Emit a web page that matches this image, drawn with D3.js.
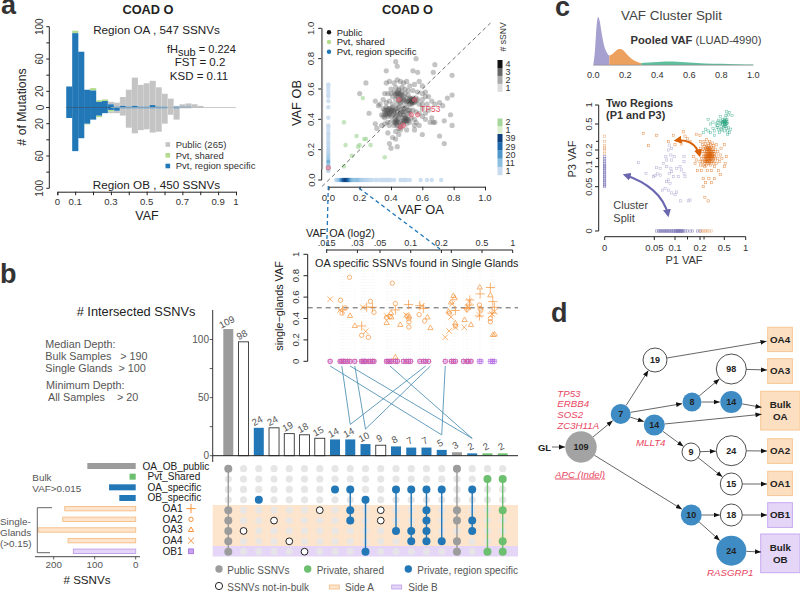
<!DOCTYPE html>
<html><head><meta charset="utf-8"><script src="https://cdn.jsdelivr.net/npm/d3@7"></script>
<style>html,body{margin:0;padding:0;background:#fff}svg{display:block}text{font-family:"Liberation Sans",Arial,sans-serif}</style></head><body>
<svg id="c" width="800" height="592"></svg>
<script>
// ---------- panel a
const histStart=[.05,.0833,.1167,.15,.1833,.2167,.25,.2833,.3167,.35,.3833,.4167,.45,.4833,.5167,.55,.5833,.6167,.65,.6833,.7167,.75,.7833];
const topBlue =[26,92,69,22,21,7,8,4,1,2,1,2,1,1,3,1,1,0,1,1,1,0,0];
const topGreen=[0,3,0,0,3,2,2,0,0,0,0,0,0,0,0,0,0,0,0,0,0,0,0];
const topGray =[0,0,0,0,0,0,0,3,5,11,21,35,27,29,30,24,16,11,1,3,4,4,2];
const botBlue =[13,54,38,20,15,10,7,3,4,1,1,1,1,1,1,1,1,0,1,0,0,0,0];
const botGreen=[0,0,0,1,0,2,0,2,0,0,0,0,0,0,0,0,0,0,0,0,0,0,0];
const botGray =[0,0,0,0,0,0,0,2,3,9,24,31,27,26,30,29,19,9,14,1,1,0,0];
const histXTicks=[0,.1,.3,.5,.7,.9,1];
const histYLabels=[100,60,20,0,20,60,100];
// ---------- scatter
const pubPts=[[.37,.72],[.43,.78],[.44,.75],[.56,.80],[.68,.76],[.67,.71],[.54,.72],[.57,.71],[.79,.69],[.24,.64],[.2,.57],[.79,.56],[.76,.54],[.71,.51],[.73,.49],[.78,.43],[.74,.39],[.79,.36],[.67,.38],[.65,.38],[.71,.29],[.74,.24],[.6,.3],[.55,.33],[.39,.24],[.4,.21],[.44,.22],[.43,.27],[.45,.3],[.38,.31],[.3,.37],[.34,.36],[.26,.44],[.3,.52],[.32,.49],
[.37,.64],[.39,.65],[.42,.64],[.44,.66],[.46,.65],[.48,.64],[.5,.65],[.52,.62],[.55,.63],[.58,.65],[.6,.62],[.4,.6],[.43,.61],[.45,.6],[.47,.61],[.49,.6],[.51,.59],[.54,.59],[.57,.58],[.6,.57],[.62,.55],[.66,.52],[.68,.5],[.36,.57],[.38,.57],[.4,.57],[.41,.55],[.42,.58],[.43,.56],[.44,.57],[.45,.55],[.46,.57],[.47,.56],[.48,.55],[.49,.57],[.5,.54],[.51,.56],[.52,.54],[.53,.53],[.54,.52],[.55,.53],[.56,.52],[.53,.51],[.54,.54],[.55,.51],[.56,.54],[.57,.53],[.58,.5],[.52,.5],[.6,.53],[.63,.5],
[.33,.5],[.35,.47],[.36,.45],[.37,.48],[.38,.46],[.39,.47],[.4,.45],[.41,.48],[.42,.46],[.43,.47],[.44,.45],[.45,.48],[.46,.46],[.47,.49],[.48,.47],[.49,.45],[.5,.48],[.51,.46],[.34,.43],[.35,.42],[.36,.41],[.37,.43],[.38,.42],[.39,.44],[.4,.42],[.41,.43],[.42,.44],[.43,.42],[.44,.43],[.45,.42],[.46,.43],[.47,.41],[.48,.43],[.49,.42],[.5,.41],[.52,.44],[.54,.46],[.56,.45],[.58,.44],[.6,.42],[.62,.44],[.64,.46],[.66,.41],[.68,.38],[.6,.47],[.62,.4],
[.41,.39],[.42,.38],[.43,.37],[.44,.39],[.42,.36],[.44,.36],[.47,.39],[.48,.38],[.49,.39],[.5,.37],[.51,.39],[.49,.41],[.52,.38],[.46,.36],[.45,.34],[.47,.35],[.46,.33],[.47,.37],[.53,.41],[.55,.4],[.56,.38],[.58,.36],[.36,.37],[.38,.38],[.39,.36],[.55,.36],[.43,.32],[.41,.28],[.5,.33],[.31,.34],[.37,.51],[.39,.52],[.41,.5],[.44,.5],[.47,.52],[.5,.51],[.6,.5],[.62,.58],[.35,.53],[.64,.55],
// dense core
[.53,.52],[.53,.52],[.54,.525],[.535,.515],[.525,.53],[.54,.51],[.53,.535],[.545,.53],[.52,.52],[.53,.5],[.55,.52],
[.43,.39],[.44,.385],[.435,.375],[.43,.4],[.44,.4],[.45,.38],[.5,.4],[.49,.385],[.5,.39],[.51,.4],[.495,.405],[.48,.395],
[.36,.46],[.37,.46],[.38,.47],[.38,.44],[.39,.45],[.4,.46],[.41,.46],[.4,.47],[.37,.44],[.36,.43],[.39,.43],[.42,.45],[.44,.47],[.46,.44],[.47,.45],[.48,.45],[.49,.47],[.52,.46],[.51,.44],
[.43,.57],[.44,.58],[.45,.57],[.46,.56],[.47,.58],[.45,.59],[.44,.55],[.46,.53],[.47,.54],[.48,.53],[.49,.52],[.5,.52],[.51,.52],[.46,.51],[.43,.53],[.45,.52]];
const sharedPts=[[.1,.38],[.22,.54],[.18,.29],[.11,.23],[.19,.22],[.2,.23],[.23,.27],[.24,.27],[.27,.23],[.15,.16],[.1,.09],[.36,.15]];
const stripY=[[.63,1],[.62,1],[.6,1],[.58,1],[.56,1],[.55,1],[.52,1],[.48,1],[.41,1],[.36,1],[.35,1],[.33,1],[.31,1],[.3,2],[.28,2],[.26,2],[.24,3],[.22,3],[.2,4],[.18,5],[.16,7],[.14,8],[.12,16],[.1,11],[.09,7],[.08,5],[.07,4],[.06,3]];
const stripX=[[.05,3],[.06,6],[.07,10],[.08,16],[.09,26],[.1,34],[.11,39],[.12,37],[.13,30],[.14,22],[.15,14],[.16,12],[.17,10],[.18,11],[.19,12],[.2,10],[.21,7],[.22,6],[.23,5],[.24,4],[.25,4],[.26,3],[.27,2],[.28,2],[.3,1],[.31,1],[.33,1],[.34,1],[.35,1],[.36,1],[.37,1],[.38,1],[.39,1],[.4,1],[.42,1],[.46,1],[.47,1],[.48,1],[.49,1],[.5,1],[.52,1],[.59,1],[.63,1],[.66,1],[.72,1]];
const redPts=[[.45,.53],[.55,.53],[.53,.43],[.57,.43],[.46,.35],[.48,.36],[0,.08]];
const scatterTicks=[0,.2,.4,.6,.8,1];
const countTicks=[1,11,20,29,39];
const grayLegend=[1,2,3,4];
const greenLegend=[1,2];
// ---------- panel c
const densX=[0,.01,.02,.03,.04,.05,.06,.07,.08,.09,.1,.12,.14,.16,.18,.2,.22,.25,.28,.3,.35,.4,.45,.5,.55,.6,.7,.8,.9,1];
const densY=[0,14,38,48,44,34,25,18,14,11,9.5,11,14,16,15.5,12.5,9,5,2.8,2,2.4,3,3.4,3.4,3,2.6,1.6,1.2,.8,.4];
const greenPts=[[.3,.62],[.24,.4],[.27,.44],[.3,.42],[.33,.4],[.36,.45],[.38,.42],[.38,.37],[.4,.5],[.41,.46],[.42,.55],[.43,.44],[.43,.6],[.44,.4],[.45,.52],[.46,.47],[.46,.58],[.47,.43],[.48,.5],[.48,.55],[.48,.62],[.49,.46],[.5,.52],[.5,.6],[.5,.42],[.51,.5],[.51,.56],[.52,.66],[.52,.47],[.53,.54],[.54,.6],[.54,.72],[.55,.5],[.55,.45],[.56,.56],[.56,.62],[.57,.52],[.58,.42],[.58,.38],[.59,.74],[.6,.46],[.62,.8],[.62,.4],[.65,.44],[.55,.82],[.45,.7],[.36,.55],[.33,.5],[.68,.72],[.47,.53],[.49,.57],[.52,.58],[.53,.49],[.54,.52],[.5,.47],[.46,.44],[.42,.48]];
const orangePts=[[.039,.39],[.056,.37],[.044,.25],[.084,.296],[.096,.37],[.133,.41],[.1,.26],[.11,.31],[.12,.3],[.125,.27],[.14,.36],[.15,.33],[.16,.3],[.185,.38],[.2,.37],[.175,.16],[.18,.12],[.185,.14],[.19,.09],[.2,.13],[.2,.18],[.21,.11],[.21,.22],[.21,.3],[.22,.15],[.22,.09],[.23,.19],[.23,.13],[.23,.26],[.24,.16],[.24,.11],[.24,.21],[.24,.07],[.25,.14],[.25,.18],[.25,.24],[.25,.3],[.26,.12],[.26,.16],[.26,.2],[.26,.1],[.27,.15],[.27,.18],[.27,.22],[.27,.27],[.27,.13],[.28,.11],[.28,.14],[.28,.17],[.28,.19],[.28,.24],[.28,.32],[.29,.13],[.29,.16],[.29,.18],[.29,.21],[.29,.09],[.3,.12],[.3,.15],[.3,.17],[.3,.19],[.3,.23],[.3,.28],[.31,.14],[.31,.16],[.31,.18],[.31,.2],[.31,.25],[.31,.07],[.32,.13],[.32,.15],[.32,.17],[.32,.19],[.32,.22],[.32,.3],[.33,.11],[.33,.14],[.33,.16],[.33,.18],[.33,.21],[.33,.26],[.34,.15],[.34,.17],[.34,.19],[.34,.23],[.34,.09],[.35,.13],[.35,.16],[.35,.18],[.35,.2],[.35,.28],[.36,.14],[.36,.17],[.36,.22],[.37,.12],[.37,.15],[.37,.19],[.37,.25],[.38,.16],[.38,.18],[.38,.1],[.39,.14],[.39,.21],[.4,.17],[.4,.12],[.4,.26],[.42,.15],[.42,.19],[.43,.09],[.44,.13],[.45,.17],[.46,.22],[.47,.15],[.5,.1],[.5,.26],[.52,.12],[.55,.16],[.24,.05],[.27,.06],[.34,.06],[.38,.07],[.26,.038],[.3,.034],[.45,.08],
[.27,.16],[.28,.155],[.29,.15],[.29,.17],[.3,.16],[.3,.18],[.31,.15],[.31,.17],[.32,.16],[.32,.18],[.33,.15],[.33,.17],[.34,.16],[.34,.18],[.35,.15],[.35,.17],[.3,.14],[.3,.2],[.32,.2],[.28,.2],[.29,.23],[.31,.22],[.33,.19],[.36,.16],[.36,.19],[.34,.13],[.32,.12],[.3,.13],[.28,.13],[.26,.14]];
const purplePts=[[.0342,.124],[.0416,.083],[.0556,.0975],[.0516,.0775],[.049,.075],[.0573,.082],[.065,.079],[.072,.12],[.078,.16],[.084,.2],[.09,.17],[.092,.14],[.098,.16],[.08,.1],[.09,.096],[.086,.083],[.092,.0875],[.096,.075],[.107,.096],[.12,.1],[.127,.092],[.136,.083],[.14,.075],[.084,.067],[.088,.058],[.08,.0625],[.076,.048],[.07,.046],[.084,.046],[.092,.043],[.1,.041],[.107,.044],[.123,.034],[.153,.034],[.16,.035],[.136,.16],[.136,.13],[.08,.14],[.086,.257],[.092,.22],[.113,.075],[.064,.096]];
const stripCY=[.05,.053,.056,.06,.063,.066,.07,.073,.076,.08,.083,.086,.09,.093,.096,.1,.105,.11,.12,.13,.14,.15,.16];
const stripCYO=[.18,.2,.22,.25,.3,.36];
const stripCX=[.055,.06,.062,.065,.067,.07,.072,.075,.077,.08,.082,.085,.087,.09,.092,.095,.097,.1,.103,.105,.108,.11,.113,.115,.118,.12,.123,.125,.128,.13,.135,.14,.15,.16,.17,.19,.2];
const stripCXO=[.21,.23,.25,.27,.29,.31,.34];
const cXTicks=[0,.05,.1,.2,.5,1];
const cYTicks=[0,.05,.1,.2,.5,1];
const cXMinor=[.15,.25];
const cYMinor=[.15,.3];
// ---------- panel b
const barVals=[109,98,24,24,19,18,15,14,14,10,9,8,7,7,5,3,2,2,2];
const barKind=['pub','open','spec','open','open','open','open','spec','spec','spec','open','spec','spec','spec','spec','pub','spec','shared','shared'];
const barSets=[[0,4,5,6,7,8],[6],[3],[5],[7],[8],[4],[2],[2,4,5],[3,8],[4,5],[2,6],[2,6,7],[2,4,5,6,7],[2,7],[0,4,5,7,8],[2,5,6],[1,8],[1,4,7,8]];
const setNames=['OA_OB_public','Pvt_Shared','OA_specific','OB_specific','OA1','OA2','OA3','OA4','OB1'];
const setSizes=[118,15,65,40,173,178,238,165,152];
const setKind=['pub','shared','spec','spec','sideA','sideA','sideA','sideA','sideB'];
const barTicks=[0,50,100];
const sizeTicks=[0,100,200];
// single glands
const glPlus=[[.0215,.48],[.033,.33],[.037,.505],[.0422,.505],[.0707,.48],[.0952,.53],[.123,.52],[.133,.495],[.274,.475],[.355,.495],[.38,.573],[.376,.526],[.479,.63],[.472,.424],[.604,.69],[.638,.558],[.662,.505],[.628,.45]];
const glCircle=[[.0205,.57],[.0251,.785],[.0227,.5],[.0212,.45],[.033,.243],[.0384,.224],[.0403,.56],[.0436,.458],[.058,.41],[.066,.73],[.0707,.54],[.0626,.417],[.092,.424],[.0952,.4],[.096,.37],[.096,.32],[.121,.436],[.137,.377],[.24,.45],[.274,.33],[.355,.486],[.472,.526],[.488,.48],[.479,.495],[.604,.4],[.604,.37]];
const glTri=[[.0254,.424],[.0283,.33],[.058,.358],[.064,.45],[.0645,.41],[.079,.34],[.097,.417],[.146,.41],[.156,.31],[.235,.464],[.249,.55],[.262,.61],[.27,.59],[.274,.355],[.337,.386],[.39,.34],[.475,.69],[.604,.617],[.64,.246],[.665,.25],[.0707,.037]];
const glCross=[[.0162,.58],[.0203,.48],[.0362,.28],[.034,.505],[.058,.424],[.0904,.433],[.128,.517],[.218,.224],[.238,.283],[.255,.536],[.249,.414],[.274,.318],[.335,.318],[.376,.564],[.367,.505],[.472,.433],[.628,.442],[.662,.464]];
const glZero=[.0162,.0203,.0211,.0219,.0227,.024,.0254,.0283,.033,.034,.0352,.0362,.0384,.0403,.0422,.0436,.058,.06,.0626,.065,.0707,.074,.085,.0904,.0952,.1,.123,.133,.14,.15,.218,.25,.262,.274,.33,.355,.367,.39,.472,.488,.604,.628,.64,.662];
const glXTicks=[.015,.03,.05,.1,.2,.25,.5,1];
const glXLabels=['.015','.03','.05','0.1','0.2','','0.5','1'];
const glYTicks=[0,.2,.4,.6,.8,1];
const glLinks=[[.0162,14],[.0211,8],[.0283,9],[.0254,16],[.0626,16],[.14,8],[.156,9],[.218,14]];
// ---------- panel d
const treeNodes=[['r','109',581,447,15.7,'pub'],['a','7',620.7,414,10,'spec'],['b','19',655,360,12,'open'],['c','8',692,402,9.5,'spec'],['d','98',731.3,369,15,'open'],['e','14',731.3,402,11,'spec'],['f','14',654.3,425,10.5,'spec'],['g','9',691,452,9,'open'],['h','24',731.3,450.7,15,'open'],['i','15',731.3,484,11,'open'],['j','10',691.3,515,10.5,'spec'],['k','18',731.3,515,11,'open'],['l','24',731.3,550.7,15,'spec']];
const treeBoxes=[['OA4',767.7,327.3,24.7,24.3,'A'],['OA3',767.7,358.7,24.7,24.7,'A'],['Bulk\nOA',760.7,391.3,39.3,38.7,'A'],['OA2',767.7,438.7,24.7,24.7,'A'],['OA1',767.7,471.3,24.7,24.3,'A'],['OB1',767.7,502.7,24.7,24.7,'B'],['Bulk\nOB',760.7,534,39.3,38.7,'B']];
const treeEdges=[['r','a'],['a','b'],['a','c'],['a','f'],['c','d'],['c','e'],['f','g'],['g','h'],['g','i'],['r','j'],['j','k'],['j','l']];
const treeExits=[['b',766.5,341.3],['d',767,370],['e',761.5,407.3],['f',761.5,414.3],['h',767,451],['i',767,484],['k',767,515],['l',761,552]];
const geneNotes=[['TP53',557.3,396.7],['ERBB4',557.3,407],['SOS2',557.3,418],['ZC3H11A',557.3,429],['MLLT4',636,445.5],['APC (Indel)',555,477.5],['RASGRP1',707,576]];

const BLUE='#2277b7',GREEN='#6bbf6e',GRAY='#9c9c9c',ORANGE='#f5933b',ACOL='#555';
const svg=d3.select('#c');
function T(x,y,s,o={}){const t=svg.append('text').attr('x',x).attr('y',y).text(s)
 .attr('font-size',o.size||10).attr('fill',o.fill||'#222').attr('text-anchor',o.anchor||'start');
 if(o.weight)t.attr('font-weight',o.weight); if(o.style)t.attr('font-style',o.style);
 if(o.rot!==undefined)t.attr('transform',`rotate(${o.rot} ${x} ${y})`);
 if(o.deco)t.attr('text-decoration',o.deco); return t;}
function L(g,x1,y1,x2,y2,c='#222',w=1,dash){const l=g.append('line').attr('x1',x1).attr('y1',y1).attr('x2',x2).attr('y2',y2).attr('stroke',c).attr('stroke-width',w);if(dash)l.attr('stroke-dasharray',dash);return l;}
// panel letters
[['a',1,14],['b',0,283],['c',555,16],['d',551,322]].forEach(d=>T(d[1],d[2],d[0],{size:27,weight:'bold',fill:'#333'}));

// ====== PANEL A
(function(){
 const g=svg.append('g');
 const x=d3.scaleLinear([0,1],[57.3,236]);
 const yT=d3.scaleLinear([0,100],[107.5,26.7]);
 const yB=d3.scaleLinear([0,100],[107.5,188.3]);
 const w=1/30;
 const draw=(y,a,b,c)=>histStart.forEach((s,i)=>{
  const rect=(v0,v1,col)=>{if(v1>v0)g.append('rect').attr('x',x(s)).attr('width',x(s+w)-x(s)+.2).attr('y',Math.min(y(v0),y(v1))).attr('height',Math.abs(y(v1)-y(v0))).attr('fill',col);};
  rect(a[i]+b[i],a[i]+b[i]+c[i],'#c4c4c4');
  rect(a[i],a[i]+b[i],'#b4dc8e');
  rect(0,a[i],BLUE);
  if(c[i]>0) g.append('line').attr('x1',x(s)).attr('x2',x(s)).attr('y1',y(0)).attr('y2',y(a[i]+b[i]+c[i])).attr('stroke','#fff').attr('stroke-width',.4).attr('opacity',.6);
 });
 draw(yT,topBlue,topGreen,topGray); draw(yB,botBlue,botGreen,botGray);
 L(g,x(0.05),107.5,x(.3),107.5,'#1b4a70',.7); L(g,x(.3),107.5,236,107.5,'#aaa',.6);
 const ya=g.append('g').attr('transform','translate(49.3,0)');
 L(ya,0,yT(100),0,yB(100));
 d3.range(0,101,20).forEach(v=>{L(ya,-3,yT(v),0,yT(v));L(ya,-3,yB(v),0,yB(v));});
 histYLabels.forEach((v,i)=>{const yy=i<3?yT(v):yB(v);T(43.5,yy,v,{size:10,rot:-90,anchor:'middle',fill:'#333'});});
 const xa=g.append('g').attr('transform','translate(0,191.7)');
 const ax=d3.axisBottom(x).tickValues(d3.range(0,1.01,.1)).tickSize(3.5).tickFormat('');
 xa.call(ax);xa.selectAll('path,line').attr('stroke','#222');
 histXTicks.forEach(v=>T(x(v),205,v,{size:9.6,anchor:'middle',fill:'#333'}));
 T(147,220,'VAF',{size:12.5,anchor:'middle'});
 T(26,107,'# of Mutations',{size:12.3,rot:-90,anchor:'middle'});
 T(148,14,'COAD O',{size:12.8,weight:'bold',anchor:'middle'});
 T(156.5,33.5,'Region OA , 547 SSNVs',{size:11.7,anchor:'middle'});
 T(156.5,189,'Region OB , 450 SSNVs',{size:11.7,anchor:'middle'});
 const fh=T(167,53,'fH',{size:11});fh.append('tspan').attr('dy',3).text('sub');fh.append('tspan').attr('dy',-3).text(' = 0.224');
 T(200,66,'FST = 0.2',{size:11.5,anchor:'middle'});T(199,79.5,'KSD = 0.11',{size:11.5,anchor:'middle'});
 [['Public (265)','#c4c4c4',144.5],['Pvt, shared','#b4dc8e',155.3],['Pvt, region specific',BLUE,166]].forEach(d=>{
  g.append('rect').attr('x',165.5).attr('y',d[2]-2.3).attr('width',4.6).attr('height',4.6).attr('fill',d[1]);
  T(175.7,d[2]+3.2,d[0],{size:9.5,fill:'#333'});});
})();

// ====== SCATTER
(function(){
 const g=svg.append('g');
 const x=d3.scaleLinear([0,1],[328.3,485]);
 const y=d3.scaleLinear([0,1],[180,28.3]);
 const blues=d3.scaleLinear().domain(countTicks).range(['#c9dcef','#8dbfe0','#4f97cb','#1f69ad','#0d3f7c']);
 const grays=d3.scaleLinear().domain(grayLegend).range(['#dddddd','#aaaaaa','#666666','#111111']);
 const greens=d3.scaleLinear().domain(greenLegend).range(['#dbeecf','#a5d69b']);
 g.selectAll('.p').data(pubPts).enter().append('circle').attr('cx',d=>x(d[0])).attr('cy',d=>y(d[1])).attr('r',2.6).attr('fill','#4d4d4d').attr('opacity',.33);
 g.selectAll('.s').data(sharedPts).enter().append('circle').attr('cx',d=>x(d[0])).attr('cy',d=>y(d[1])).attr('r',2.3).attr('fill','#9dd393').attr('opacity',.6);
 g.selectAll('.sy').data(stripY).enter().append('circle').attr('cx',x(0)).attr('cy',d=>y(d[0])).attr('r',2.2).attr('fill',d=>blues(d[1])).attr('opacity',.9);
 g.selectAll('.sx').data(stripX).enter().append('circle').attr('cy',y(0)).attr('cx',d=>x(d[0])).attr('r',2.2).attr('fill',d=>blues(d[1])).attr('opacity',.9);
 g.selectAll('.r').data(redPts).enter().append('circle').attr('cx',d=>x(d[0])).attr('cy',d=>y(d[1])).attr('r',2.2).attr('fill','#e8768a').attr('fill-opacity',.5).attr('stroke','#e04a5f').attr('stroke-width',.6);
 T(x(.6)-2,y(.47)+3,'TP53',{size:8.4,fill:'#e04a5f'});
 L(g,x(-.04),y(-.04)+.4,x(1.035),y(1.035),'#333',.7,'4 3');
 const ya=g.append('g').attr('transform','translate(321.7,0)');
 L(ya,0,y(0),0,y(1));
 L(g,322.2,y(1),322.2,y(.07),GRAY,1.8);
 scatterTicks.forEach(v=>{L(ya,-3.5,y(v),0,y(v));T(314.5,y(v),v.toFixed(1),{size:9.6,rot:-90,anchor:'middle',fill:'#333'});});
 const xa=g.append('g').attr('transform','translate(0,186.7)');
 xa.call(d3.axisBottom(x).tickValues(scatterTicks).tickSize(3.5).tickFormat(''));xa.selectAll('path,line').attr('stroke','#222');
 scatterTicks.forEach(v=>T(x(v),201,v.toFixed(1),{size:9.6,anchor:'middle',fill:'#333'}));
 T(420.7,214,'VAF OA',{size:12.8,anchor:'middle'});
 T(301,103,'VAF OB',{size:12.8,rot:-90,anchor:'middle'});
 T(407.5,14,'COAD O',{size:12.8,weight:'bold',anchor:'middle'});
 [['Public','#111',32.3],['Pvt, shared','#b4dc8e',42],['Pvt, region specific',BLUE,51.7]].forEach(d=>{
  g.append('circle').attr('cx',329).attr('cy',d[2]).attr('r',2.2).attr('fill',d[1]);
  T(336.7,d[2]+3.3,d[0],{size:9.5,fill:'#222'});});
 T(506,51.5,'# sSNV',{size:8.6,rot:-90,fill:'#333'});
 const leg=(items,top,bot,scale)=>{const h=(bot-top)/items.length,rev=items.slice().reverse();
  const lab=g.append('text').attr('font-size',9).attr('fill','#333');
  rev.forEach((v,i)=>{
   g.append('rect').attr('x',497.5).attr('y',top+i*h).attr('width',5).attr('height',h+.2).attr('fill',scale(v));
   lab.append('tspan').attr('x',505.5).attr('y',top+i*h+h/2+3.2).text(v);});};
 leg(grayLegend,60,91.7,grays); leg(greenLegend,118.5,133.5,greens); leg(countTicks,134,175,blues);
 L(g,328.3,186,326.7,250,BLUE,1.3,'4 3');L(g,359,188,440,249,BLUE,1.3,'4 3');
})();

// ====== PANEL C
(function(){
 const g=svg.append('g');
 const x=d3.scaleLinear([0,1],[593.3,753.3]);
 const y=d3.scaleLinear([0,48],[65,17]);
 const pts=densX.map((v,i)=>[v,densY[i]]);
 const ar=d3.area().x(d=>x(d[0])).y0(65).y1(d=>y(d[1])).curve(d3.curveMonotoneX);
 g.append('path').attr('d',ar(pts.filter(d=>d[0]<=.1))).attr('fill','#a5a0cf');
 g.append('path').attr('d',ar(pts.filter(d=>d[0]>=.1&&d[0]<=.3))).attr('fill','#eca15f');
 g.append('path').attr('d',ar(pts.filter(d=>d[0]>=.3))).attr('fill','#5fbf9c');
 L(g,593.3,65.2,753.3,65.2,'#888',.7);
 [0,.2,.4,.6,.8,1].forEach(v=>T(x(v),78,v.toFixed(1),{size:9.2,anchor:'middle',fill:'#333'}));
 T(621,20,'VAF Cluster Split',{size:13.4,fill:'#444'});
 const pv=T(630.5,43.5,'Pooled VAF',{size:11.2,weight:'bold',fill:'#333'});pv.append('tspan').attr('font-weight','normal').attr('fill','#444').text(' (LUAD-4990)');
 const X=d3.scaleLinear([0,.05,.1,.2,.5,1],[604.7,654.3,675,700,724.3,745.7]);
 const Y=d3.scaleLinear([0,.05,.1,.2,.5,1],[231,186.7,166.7,150,124,105]);
 const sq=(data,col,op,fx,fy)=>g.selectAll(null).data(data).enter().append('rect').attr('x',d=>fx(d)-1.1).attr('y',d=>fy(d)-1.1).attr('width',2.2).attr('height',2.2).attr('fill','none').attr('stroke',col).attr('stroke-width',.5).attr('opacity',op);
 sq(greenPts,'#1b9e77',.7,d=>X(d[0]),d=>Y(d[1]));
 sq(orangePts,'#d95f02',.7,d=>X(d[0]),d=>Y(d[1]));
 sq(purplePts,'#7570b3',.55,d=>X(d[0]),d=>Y(d[1]));
 sq(stripCY,'#7570b3',.8,()=>X(0),d=>Y(d));
 sq(stripCYO,'#d95f02',.5,()=>X(0),d=>Y(d));
 sq(stripCX,'#7570b3',.9,d=>X(d),()=>Y(0));
 sq(stripCXO,'#d95f02',.45,d=>X(d),()=>Y(0));
 L(g,598.7,Y(1),598.7,Y(0));
 cYTicks.forEach(v=>{L(g,595,Y(v),598.7,Y(v));T(592,Y(v),v,{size:9.4,rot:-90,anchor:'middle',fill:'#333'});});
 cYMinor.forEach(v=>L(g,596,Y(v),598.7,Y(v)));
 L(g,X(0),236.7,X(1),236.7);
 cXTicks.forEach(v=>{L(g,X(v),236.7,X(v),240);T(X(v),251,v,{size:9.4,anchor:'middle',fill:'#333'});});
 cXMinor.forEach(v=>L(g,X(v),236.7,X(v),239.5));
 T(684,263.5,'P1 VAF',{size:11,anchor:'middle',fill:'#333'});
 T(575.7,159,'P3 VAF',{size:11,rot:-90,anchor:'middle',fill:'#333'});
 T(606,106.7,'Two Regions',{size:10.9,weight:'bold',fill:'#333'});T(606,119.3,'(P1 and P3)',{size:10.9,weight:'bold',fill:'#333'});
 T(613.3,209,'Cluster',{size:11,fill:'#444'});T(613.3,221.7,'Split',{size:11,fill:'#444'});
 const defs=svg.append('defs');
 [['ao','#d95f02'],['ap','#6b66b0']].forEach(m=>defs.append('marker').attr('id',m[0]).attr('viewBox','0 0 10 10').attr('refX',7).attr('refY',5).attr('markerWidth',8).attr('markerHeight',8).attr('markerUnits','userSpaceOnUse').attr('orient','auto-start-reverse').append('path').attr('d','M0,0L10,5L0,10Z').attr('fill',m[1]));
 g.append('path').attr('d','M676,140.5C686,139 696,143 699.5,155').attr('fill','none').attr('stroke','#d95f02').attr('stroke-width',2).attr('marker-start','url(#ao)').attr('marker-end','url(#ao)');
 g.append('path').attr('d','M625,175C646,182 664,195 668,215').attr('fill','none').attr('stroke','#6b66b0').attr('stroke-width',2).attr('marker-start','url(#ap)').attr('marker-end','url(#ap)');
})();

// ====== PANEL B : glands
const glX=d3.scaleLog().base(2).domain([.015,1]).range([326.7,512.7]);
const glY=d3.scaleLinear([0,1],[361.3,254.3]);
const colX=d3.scalePoint().domain(d3.range(barVals.length)).range([228.3,502.7]);
(function(){
 const g=svg.append('g');
 glZero.forEach(v=>L(g,glX(v),255,glX(v),361,'#eeeeee',.5,'1 2'));
 L(g,307.7,glY(.5),518,glY(.5),'#333',.8,'5 4');
 const sym=(data,type,size)=>{const p=d3.symbol().type(type).size(size)();g.selectAll(null).data(data).enter().append('path').attr('d',p).attr('transform',d=>`translate(${glX(d[0])},${glY(d[1])})`).attr('fill','none').attr('stroke',ORANGE).attr('stroke-width',.7);};
 sym(glCircle,d3.symbolCircle,15);sym(glPlus,d3.symbolPlus,30);sym(glTri,d3.symbolTriangle2,20);sym(glCross,d3.symbolTimes,22);
 const pl=d3.symbol().type(d3.symbolPlus).size(14)();
 glZero.forEach(v=>{
  g.append('rect').attr('x',glX(v)-2).attr('y',glY(0)-2).attr('width',4).attr('height',4).attr('fill','none').attr('stroke','#b56be6').attr('stroke-width',.5);
  g.append('path').attr('d',pl).attr('transform',`translate(${glX(v)},${glY(0)})`).attr('fill','none').attr('stroke','#b56be6').attr('stroke-width',.5);
  if(v<.45)g.append('circle').attr('cx',glX(v)).attr('cy',glY(0)).attr('r',2.1).attr('fill','none').attr('stroke','#e0507f').attr('stroke-width',.7);
 });
 L(g,307.7,glY(0),307.7,glY(1));
 glYTicks.forEach(v=>{L(g,303.5,glY(v),307.7,glY(v));T(299,glY(v),v===0?'0':v===1?'1':v.toFixed(1),{size:9.6,rot:-90,anchor:'middle',fill:'#333'});});
 T(283.3,306,'single\u2212glands VAF',{size:10.8,rot:-90,anchor:'middle',fill:'#222'});
 L(g,glX(.015),250,glX(1),250);
 glXTicks.forEach((v,i)=>{L(g,glX(v),250,glX(v),253);T(glX(v),246,glXLabels[i],{size:9.2,anchor:'middle',fill:'#333'});});
 T(306,237,'VAF OA (log2)',{size:10.8,fill:'#222'});
 T(315,267,'OA specific SSNVs found in Single Glands',{size:10.8,fill:'#222'});
 const by=d3.scaleLinear([0,100],[455.7,339.5]);
 glLinks.forEach(d=>L(g,glX(d[0]),366,colX(d[1]),by(barVals[d[1]])-15,'#3f86ad',.8));
})();

// ====== PANEL B : upset
(function(){
 const g=svg.append('g');
 const rows=d3.scalePoint().domain(d3.range(9)).range([468.7,551.7]);
 const y=d3.scaleLinear([0,100],[455.7,339.5]);
 g.append('rect').attr('x',212.7).attr('y',505).attr('width',305.3).attr('height',41).attr('fill','#fde4cc');
 g.append('rect').attr('x',212.7).attr('y',546).attr('width',305.3).attr('height',10.5).attr('fill','#e5d5f7');
 barVals.forEach((v,i)=>{
  const k=barKind[i],cx=colX(i);
  const col=k==='pub'?GRAY:k==='spec'?BLUE:k==='shared'?GREEN:'#fff';
  g.append('rect').attr('x',cx-5).attr('width',10).attr('y',y(v)).attr('height',y(0)-y(v)).attr('fill',col).attr('stroke',k==='open'?'#333':'none').attr('stroke-width',.9);
  T(0,0,v,{size:9.6,anchor:'middle',fill:'#555'}).attr('transform',`translate(${cx},${y(v)-4}) rotate(-28)`);
  d3.range(9).forEach(r=>g.append('circle').attr('cx',cx).attr('cy',rows(r)).attr('r',3.6).attr('fill','#e6e6e6').attr('opacity',r>=4?.85:1));
 });
 barSets.forEach((s,i)=>{
  const k=barKind[i],cx=colX(i);
  const col=k==='pub'?GRAY:k==='spec'?BLUE:k==='shared'?GREEN:'#fff';
  if(s.length>1&&k!=='open')L(g,cx,rows(s[0]),cx,rows(s[s.length-1]),col,1.4);
  s.forEach(r=>g.append('circle').attr('cx',cx).attr('cy',rows(r)).attr('r',k==='open'?3.4:4).attr('fill',col).attr('stroke',k==='open'?'#222':'none').attr('stroke-width',1));
 });
 L(g,212.7,310,212.7,462,'#333',1);
 L(g,212.7,y(0),518,y(0),'#222',1);
 d3.range(0,101,25).forEach(v=>L(g,209.7,y(v),212.7,y(v),'#333',.8));
 barTicks.forEach(v=>T(209,y(v)+3.5,v,{size:10,anchor:'end',fill:'#555'}));
 T(76.7,316,'# Intersected SSNVs',{size:12.8});
 // left bars
 const lx=d3.scaleLinear([0,200],[135.7,53.7]);
 const ly=d3.scalePoint().domain(d3.range(9)).range([466,551.3]);
 const lc={pub:GRAY,shared:GREEN,spec:BLUE};
 setSizes.forEach((v,i)=>{
  const k=setKind[i];
  if(lc[k])g.append('rect').attr('x',lx(v)).attr('y',ly(i)-3).attr('width',lx(0)-lx(v)).attr('height',6).attr('fill',lc[k]);
  else g.append('rect').attr('x',lx(v)).attr('y',ly(i)-2.2).attr('width',lx(0)-lx(v)).attr('height',4.4).attr('fill',k==='sideA'?'#fde4cc':'#e5d5f7').attr('stroke',k==='sideA'?'#f5bd85':'#bf9cea').attr('stroke-width',.9);
  T(i<4?[142.5,147.5,147.5,147.5][i]:162.5,ly(i)+3.5,setNames[i],{size:10.1,fill:'#222'});
 });
 L(g,35,556.7,140,556.7,'#333',.9);
 sizeTicks.forEach(v=>{L(g,lx(v),556.7,lx(v),559.5,'#333',.8);T(lx(v),568,v,{size:9.8,anchor:'middle',fill:'#555'});});
 T(87,584,'# SSNVs',{size:11.6,anchor:'middle'});
 g.append('path').attr('d','M52,507.7H37.3V552.7H50').attr('fill','none').attr('stroke','#555').attr('stroke-width',.9);
 [['Median Depth:',45.3,348],['Bulk Samples   > 190',45.3,360],['Single Glands  > 100',45.3,372.3],['Minimum Depth:',46,389.3],['All Samples    > 20',48,401.3]].forEach(d=>T(d[1],d[2],d[0],{size:10.8,fill:'#555'}).attr('xml:space','preserve').style('white-space','pre'));
 [['Bulk',32.3,481],['VAF>0.015',32.3,492],['Single-',0,525],['Glands',0,536],['(>0.15)',0,547]].forEach(d=>T(d[1],d[2],d[0],{size:9.9,fill:'#555'}));
 // row glyphs
 [[d3.symbolPlus,30],[d3.symbolCircle,15],[d3.symbolTriangle2,20],[d3.symbolTimes,24]].forEach((s,i)=>{
  g.append('path').attr('d',d3.symbol().type(s[0]).size(s[1])()).attr('transform',`translate(191,${ly(4+i)})`).attr('fill','none').attr('stroke',ORANGE).attr('stroke-width',1);});
 g.append('rect').attr('x',188.6).attr('y',ly(8)-2.4).attr('width',4.8).attr('height',4.8).attr('fill','#c9a3ee').attr('stroke','#a066dd').attr('stroke-width',.8);
 // legend
 const dots=[[219,569,GRAY,0],[307.7,569,GREEN,0],[408.3,569,BLUE,0],[219,586,'#fff',1]];
 dots.forEach(d=>g.append('circle').attr('cx',d[0]).attr('cy',d[1]).attr('r',d[3]?3.6:3.7).attr('fill',d[2]).attr('stroke',d[3]?'#222':'none').attr('stroke-width',1));
 [['Public SSNVs',227.3,574],['Private, shared',316.7,574],['Private, region specific',417.3,574],['SSNVs not-in-bulk',227.3,591],['Side A',345,591],['Side B',408.3,591]].forEach(d=>T(d[1],d[2],d[0],{size:10,fill:'#555'}));
 g.append('rect').attr('x',329.3).attr('y',585).attr('width',10).attr('height',4).attr('fill','#fde4cc').attr('stroke','#f5bd85').attr('stroke-width',.8);
 g.append('rect').attr('x',391.7).attr('y',585).attr('width',10).attr('height',4).attr('fill','#e5d5f7').attr('stroke','#bf9cea').attr('stroke-width',.8);
})();

// ====== PANEL D
(function(){
 const g=svg.append('g');
 svg.select('defs').append('marker').attr('id','ak').attr('viewBox','0 0 10 10').attr('refX',10).attr('refY',5).attr('markerWidth',6.5).attr('markerHeight',6).attr('markerUnits','userSpaceOnUse').attr('orient','auto').append('path').attr('d','M0,1L10,5L0,9Z').attr('fill','#111');
 const byId=Object.fromEntries(treeNodes.map(n=>[n[0],n]));
 const arrow=(x1,y1,x2,y2)=>L(g,x1,y1,x2,y2,'#333',.75).attr('marker-end','url(#ak)');
 treeBoxes.forEach(b=>{g.append('rect').attr('x',b[1]).attr('y',b[2]).attr('width',b[3]).attr('height',b[4]).attr('fill',b[5]==='A'?'#fcdfc0':'#e5d6f8').attr('stroke',b[5]==='A'?'#f6c795':'#c8aaf0').attr('stroke-width',1);
  const ls=b[0].split('\n'),cy=b[2]+b[4]/2;
  ls.forEach((s,i)=>T(b[1]+b[3]/2,cy+3.4+(i-(ls.length-1)/2)*11.5,s,{size:9.8,weight:'bold',anchor:'middle',fill:'#222'}));});
 treeEdges.forEach(e=>{const a=byId[e[0]],b=byId[e[1]],dx=b[2]-a[2],dy=b[3]-a[3],d=Math.hypot(dx,dy);
  arrow(a[2]+dx/d*a[4],a[3]+dy/d*a[4],b[2]-dx/d*(b[4]+.5),b[3]-dy/d*(b[4]+.5));});
 treeExits.forEach(e=>{const a=byId[e[0]],dx=e[1]-a[2],dy=e[2]-a[3],d=Math.hypot(dx,dy);arrow(a[2]+dx/d*a[4],a[3]+dy/d*a[4],e[1],e[2]);});
 arrow(552,447,565,447);
 T(544.5,450.5,'GL',{size:9.5,weight:'bold',anchor:'middle',fill:'#222'});
 treeNodes.forEach(n=>{g.append('circle').attr('cx',n[2]).attr('cy',n[3]).attr('r',n[4]).attr('fill',n[5]==='pub'?'#a3a3a3':n[5]==='spec'?'#3f8cc4':'#fff').attr('stroke',n[5]==='open'?'#222':'none').attr('stroke-width',.8);
  T(n[2],n[3]+3.2,n[1],{size:9,weight:'bold',anchor:'middle',fill:'#222'});});
 geneNotes.forEach((d,i)=>T(d[1],d[2],d[0],{size:9.7,style:'italic',fill:'#e8465f',deco:i===5?'underline':null}));
})();
</script></body></html>
